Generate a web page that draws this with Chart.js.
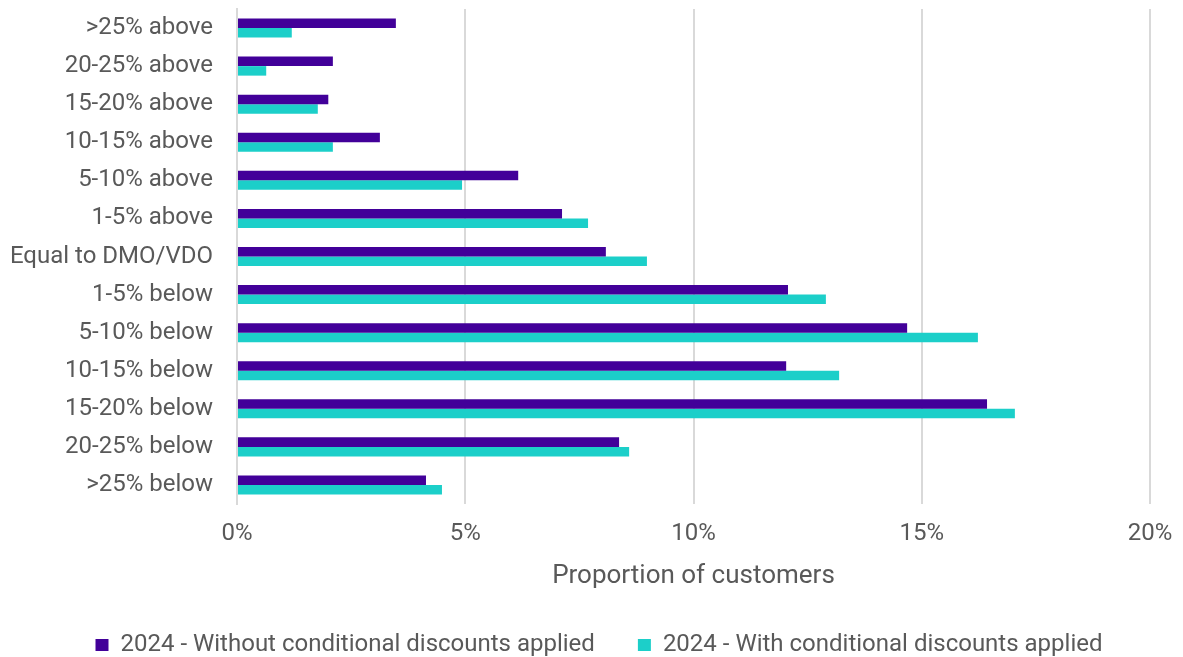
<!DOCTYPE html>
<html>
<head>
<meta charset="utf-8">
<script src="https://cdn.jsdelivr.net/npm/chart.js@4/dist/chart.umd.min.js"></script>
<style>
html,body{margin:0;padding:0;background:#fff;}
#wrap{width:1183px;height:657px;position:relative;}
</style>
</head>
<body>
<div id="wrap"><canvas id="c" width="1183" height="657"></canvas></div>
<script>
const categories = [">25% above","20-25% above","15-20% above","10-15% above","5-10% above","1-5% above","Equal to DMO/VDO","1-5% below","5-10% below","10-15% below","15-20% below","20-25% below",">25% below"];
const withoutDiscounts = [3.48, 2.10, 2.00, 3.13, 6.16, 7.12, 8.08, 12.07, 14.68, 12.03, 16.43, 8.37, 4.14];
const withDiscounts = [1.20, 0.64, 1.77, 2.10, 4.93, 7.69, 8.98, 12.90, 16.23, 13.19, 17.04, 8.59, 4.49];
const seriesNames = ["2024 - Without conditional discounts applied", "2024 - With conditional discounts applied"];
const xTicks = [0, 5, 10, 15, 20];

Chart.defaults.font.family = "Roboto";
Chart.defaults.color = "#595959";

const legendShift = {
  id: 'legendShift',
  afterLayout(chart) { if (chart.legend) { chart.legend.left = 48; } }
};

new Chart(document.getElementById('c'), {
  type: 'bar',
  data: {
    labels: categories,
    datasets: [
      {label: seriesNames[0], data: withoutDiscounts, backgroundColor: '#420099', categoryPercentage: 0.5, barPercentage: 1.0},
      {label: seriesNames[1], data: withDiscounts, backgroundColor: '#1ccfc9', categoryPercentage: 0.5, barPercentage: 1.0}
    ]
  },
  plugins: [legendShift],
  options: {
    indexAxis: 'y',
    responsive: false,
    animation: false,
    layout: {padding: {top: 9, right: 33, left: 0, bottom: 0}},
    plugins: {
      legend: {
        position: 'bottom',
        maxHeight: 67,
        labels: {
          font: {size: 24},
          color: '#595959',
          boxWidth: 13,
          boxHeight: 12,
          padding: 43
        }
      },
      tooltip: {enabled: false}
    },
    scales: {
      x: {
        min: 0, max: 20,
        afterBuildTicks: (axis) => { axis.ticks = xTicks.map(v => ({value: v})); },
        afterFit: (axis) => { axis.height = 86; axis.paddingLeft = 0; axis.paddingRight = 0; },
        ticks: {
          callback: (v) => v + '%',
          font: {size: 24},
          color: '#595959',
          padding: 16
        },
        grid: {color: '#d9d9d9', lineWidth: 2, drawTicks: false},
        border: {display: false},
        title: {display: true, text: 'Proportion of customers', font: {size: 26, lineHeight: 0.8}, color: '#595959', padding: {top: 0, bottom: 3}}
      },
      y: {
        afterFit: (axis) => { axis.width = 237; axis.paddingTop = 0; axis.paddingBottom = 0; },
        ticks: {font: {size: 24}, color: '#595959', padding: 24, autoSkip: false},
        grid: {display: false, drawTicks: false},
        border: {display: true, color: '#d9d9d9', width: 2}
      }
    }
  }
});
</script>
</body>
</html>
